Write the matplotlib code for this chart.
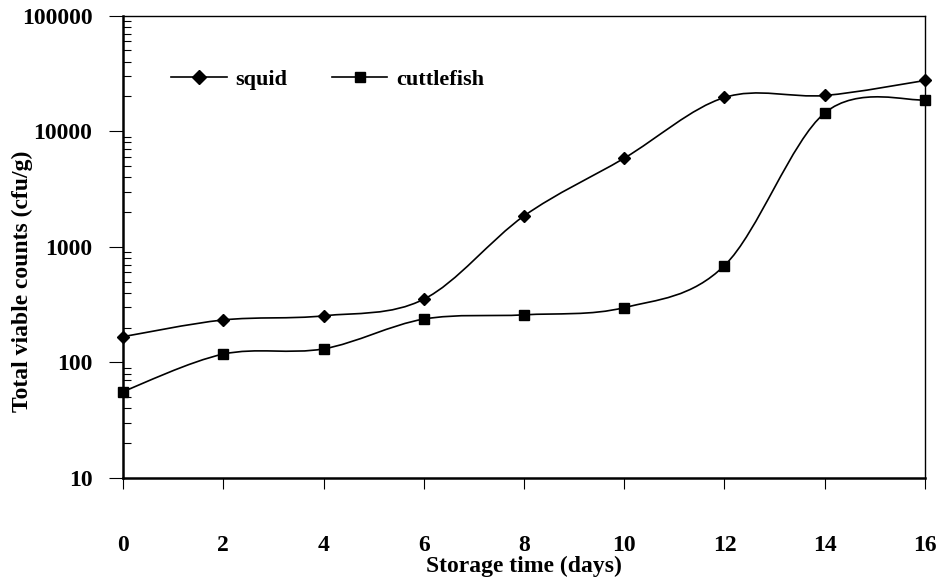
import numpy as np
import matplotlib
matplotlib.use("Agg")
import matplotlib.pyplot as plt
from matplotlib.path import Path
from matplotlib.patches import PathPatch
from matplotlib.lines import Line2D

plt.rcParams["font.family"] = ["Liberation Serif", "DejaVu Serif"]
plt.rcParams["font.weight"] = "bold"
plt.rcParams["axes.labelweight"] = "bold"

##==============================================================================

# Data

days = [0, 2, 4, 6, 8, 10, 12, 14, 16]
squid = [167, 233, 253, 352, 1850, 5850, 19600, 20400, 27500]
cuttlefish = [56, 118, 131, 237, 258, 298, 689, 14400, 18700]

xticks = [0, 2, 4, 6, 8, 10, 12, 14, 16]
yticks = [10, 100, 1000, 10000, 100000]
ytick_labels = ["10", "100", "1000", "10000", "100000"]

##==============================================================================

# Excel-style smoothed line: cubic bezier segments built in (x, log y) space

def smooth_path(x, y):
  px = np.asarray(x, dtype=float)
  py = np.log10(np.asarray(y, dtype=float))
  n = len(px)
  verts = [(px[0], py[0])]
  codes = [Path.MOVETO]
  for i in range(n - 1):
    a = max(i - 1, 0)
    b = min(i + 2, n - 1)
    c1 = (px[i] + (px[i+1] - px[a]) / 6, py[i] + (py[i+1] - py[a]) / 6)
    c2 = (px[i+1] - (px[b] - px[i]) / 6, py[i+1] - (py[b] - py[i]) / 6)
    verts += [c1, c2, (px[i+1], py[i+1])]
    codes += [Path.CURVE4] * 3
  verts = np.array(verts)
  verts[:, 1] = 10 ** verts[:, 1]
  return Path(verts, codes)

##==============================================================================

# plotting

fig = plt.figure(figsize=(9.45, 5.81), dpi=100)
ax = fig.add_axes([0.1302, 0.1773, 0.8486, 0.7957])
ax.set_yscale("log")
ax.set_xlim(0, 16)
ax.set_ylim(10, 100000)

lw = 1.2
for vals, mk, ms in [(squid, "D", 6.5), (cuttlefish, "s", 7.5)]:
  ax.add_patch(PathPatch(smooth_path(days, vals), fill=False, ec="black",
                         lw=lw, clip_on=False, zorder=2))
  ax.plot(days, vals, ls="none", marker=mk, ms=ms, color="black",
          clip_on=False, zorder=3)

ax.set_xticks(xticks)
ax.set_xticklabels([str(t) for t in xticks], fontsize=17)
ax.set_yticks(yticks)
ax.set_yticklabels(ytick_labels, fontsize=17)

ax.tick_params(axis="x", which="major", direction="out", length=8, width=0.8,
               pad=33, colors="black")
ax.tick_params(axis="y", which="major", direction="out", length=10, width=0.8,
               pad=12)
ax.tick_params(axis="y", which="minor", direction="in", length=6, width=0.8)
ax.tick_params(axis="x", which="minor", bottom=False)

for side in ["left", "bottom"]:
  ax.spines[side].set_linewidth(1.8)
for side in ["top", "right"]:
  ax.spines[side].set_linewidth(1.0)

ax.set_xlabel("Storage time (days)", fontsize=17, va="center")
ax.set_ylabel("Total viable counts (cfu/g)", fontsize=17, va="center")
ax.xaxis.set_label_coords(0.5, -0.192)
ax.yaxis.set_label_coords(-0.125, 0.426)

handles = [Line2D([], [], color="black", lw=lw, marker="D", ms=7),
           Line2D([], [], color="black", lw=lw, marker="s", ms=7.5)]
ax.legend(handles, ["squid", "cuttlefish"], ncol=2, frameon=False,
          loc="center left", bbox_to_anchor=(0.046, 0.862), borderpad=0,
          handlelength=2.5, handletextpad=0.4, columnspacing=2.0,
          prop={"size": 16, "weight": "bold"})

fig.savefig("out.png", dpi=100)
